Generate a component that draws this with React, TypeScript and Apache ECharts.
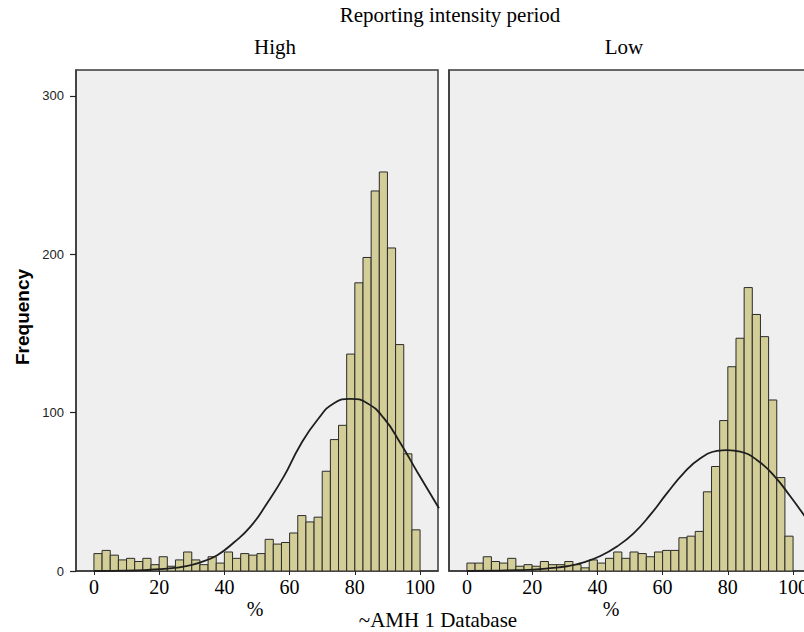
import React, { useEffect, useRef } from "react";
import * as echarts from "echarts";

// Histogram bins (% values), 2.5 wide
const BIN_STARTS = [
  0, 2.5, 5, 7.5, 10, 12.5, 15, 17.5, 20, 22.5,
  25, 27.5, 30, 32.5, 35, 37.5, 40, 42.5, 45, 47.5,
  50, 52.5, 55, 57.5, 60, 62.5, 65, 67.5, 70, 72.5,
  75, 77.5, 80, 82.5, 85, 87.5, 90, 92.5, 95, 97.5,
];
const BIN_WIDTH = 2.5;

// Frequencies, panel "High"
const HIGH_COUNTS = [
  11, 13, 10, 7, 8, 6, 8, 4, 9, 3,
  7, 12, 7, 4, 9, 5, 12, 8, 11, 10,
  11, 20, 17, 18, 24, 35, 31, 34, 63, 83,
  92, 137, 182, 198, 240, 252, 204, 143, 74, 26,
];

// Frequencies, panel "Low"
const LOW_COUNTS = [
  5, 5, 9, 6, 5, 8, 3, 4, 3, 6,
  4, 4, 6, 4, 2, 7, 5, 8, 12, 8,
  12, 11, 9, 12, 13, 13, 21, 22, 25, 50,
  66, 95, 129, 147, 179, 162, 148, 108, 59, 22,
];

// Normal curves
const HIGH_CURVE_X = [0, 10, 17.3, 22.4, 27.5, 32.7, 37.8, 42.9, 48, 53.1, 58.2, 63.3, 68.5, 73.6, 78.7, 83.8, 88.9, 94, 99.1, 105.8];
const HIGH_CURVE_Y = [0, 0.2, 0.8, 1.5, 2.8, 5.5, 10, 18, 28, 42.8, 59.6, 79.6, 95.4, 106, 108.7, 106, 96.5, 80.7, 62.7, 39.6];
const LOW_CURVE_X = [0, 10.2, 15.3, 20.4, 25.5, 30.7, 35.8, 40.9, 46, 51.1, 56.2, 61.3, 66.4, 71.6, 76.7, 79.8, 83.8, 89, 94, 99.2, 105.5];
const LOW_CURVE_Y = [0, 0.3, 0.5, 0.9, 1.8, 3, 5.5, 9.5, 15.5, 23.8, 35.4, 49, 61.7, 71.2, 75.8, 76.4, 75.4, 70, 60.6, 47, 29];

const X_TICKS = [0, 20, 40, 60, 80, 100];
const Y_TICKS = [0, 100, 200, 300];
const PANEL_TITLES = ["High", "Low"];
const X_AXIS_TITLE = "%";
const Y_AXIS_TITLE = "Frequency";
const TOP_TITLE = "Reporting intensity period";
const BOTTOM_TITLE = "~AMH 1 Database";

const X_MIN = -5.5;
const X_MAX = 105.5;
const Y_MAX = 316.4;

const BAR_FILL = "#D3CE98";
const BAR_STROKE = "#2b2b2b";
const FRAME = "#3a3a3a";
const SERIF = "'Liberation Serif', 'Times New Roman', serif";
const SANS = "'Liberation Sans', Arial, sans-serif";

function histData(counts: number[]) {
  return BIN_STARTS.map((s, i) => [s, s + BIN_WIDTH, counts[i]]);
}

function curveData(xs: number[], ys: number[]) {
  return xs.map((x, i) => [x, ys[i]]);
}

const renderBar = (params: any, api: any) => {
  const p0 = api.coord([api.value(0), 0]);
  const p1 = api.coord([api.value(1), api.value(2)]);
  return {
    type: "rect",
    shape: { x: p0[0], y: p1[1], width: p1[0] - p0[0], height: p0[1] - p1[1] },
    style: { fill: BAR_FILL, stroke: BAR_STROKE, lineWidth: 1 },
  };
};

export default function App() {
  const ref = useRef<HTMLDivElement>(null);

  useEffect(() => {
    if (!ref.current) return;
    const chart = echarts.init(ref.current, undefined, { renderer: "svg" });

    const grids = [
      { left: 76, top: 70, width: 362, height: 501 },
      { left: 449, top: 70, width: 362, height: 501 },
    ].map((g) => ({
      ...g,
      show: true,
      backgroundColor: "#EFEFEF",
      borderColor: FRAME,
      borderWidth: 1.5,
      containLabel: false,
    }));

    const xAxes: any[] = [0, 1].map((gi) => ({
      type: "value",
      gridIndex: gi,
      min: X_MIN,
      max: X_MAX,
      position: "bottom",
      splitLine: { show: false },
      axisLine: { show: true, lineStyle: { color: FRAME, width: 1.5 } },
      axisTick: {
        show: true,
        length: 4,
        inside: false,
        customValues: X_TICKS,
        lineStyle: { color: "#222", width: 1 },
      },
      axisLabel: {
        customValues: X_TICKS,
        margin: 6,
        color: "#000",
        fontSize: 20,
        fontFamily: SERIF,
      },
    }));
    // hidden helper axis whose zero sits on the left frame, so the
    // frequency axis (and its ticks) stays on the frame
    xAxes.push({
      type: "value",
      gridIndex: 0,
      min: 0,
      max: 1,
      show: false,
    });

    const yAxes = [0, 1].map((gi) => ({
      type: "value",
      gridIndex: gi,
      min: 0,
      max: Y_MAX,
      position: "left",
      splitLine: { show: false },
      axisLine: {
        show: true,
        onZero: gi === 0,
        onZeroAxisIndex: 2,
        lineStyle: { color: FRAME, width: 1.5 },
      },
      axisTick: {
        show: gi === 0,
        length: 6,
        inside: false,
        customValues: Y_TICKS,
        lineStyle: { color: "#222", width: 1.2 },
      },
      axisLabel: {
        show: gi === 0,
        customValues: Y_TICKS,
        margin: 12,
        color: "#222",
        fontSize: 13,
        fontFamily: SANS,
      },
    }));

    const textStyle = (size: number) => ({
      fontSize: size,
      fontFamily: SERIF,
      fill: "#000",
      align: "center",
      verticalAlign: "middle",
    });

    const curveSeries = (xi: number, xs: number[], ys: number[]) => ({
      type: "line",
      xAxisIndex: xi,
      yAxisIndex: xi,
      data: curveData(xs, ys),
      smooth: 0.5,
      symbol: "none",
      clip: true,
      lineStyle: { color: "#1e1e1e", width: 1.8 },
      z: 5,
    });

    chart.setOption({
      animation: false,
      grid: grids,
      xAxis: xAxes,
      yAxis: yAxes,
      series: [
        {
          type: "custom",
          xAxisIndex: 0,
          yAxisIndex: 0,
          renderItem: renderBar,
          encode: { x: [0, 1], y: 2 },
          data: histData(HIGH_COUNTS),
          clip: true,
        },
        {
          type: "custom",
          xAxisIndex: 1,
          yAxisIndex: 1,
          renderItem: renderBar,
          encode: { x: [0, 1], y: 2 },
          data: histData(LOW_COUNTS),
          clip: true,
        },
        curveSeries(0, HIGH_CURVE_X, HIGH_CURVE_Y),
        curveSeries(1, LOW_CURVE_X, LOW_CURVE_Y),
      ],
      graphic: [
        { type: "text", x: 450, y: 15, style: { text: TOP_TITLE, ...textStyle(21) } },
        { type: "text", x: 275, y: 47, style: { text: PANEL_TITLES[0], ...textStyle(21) } },
        { type: "text", x: 624, y: 47, style: { text: PANEL_TITLES[1], ...textStyle(21) } },
        { type: "text", x: 255, y: 609, style: { text: X_AXIS_TITLE, ...textStyle(20) } },
        { type: "text", x: 611, y: 609, style: { text: X_AXIS_TITLE, ...textStyle(20) } },
        { type: "text", x: 438, y: 620, style: { text: BOTTOM_TITLE, ...textStyle(21) } },
        {
          type: "text",
          x: 22,
          y: 317,
          rotation: Math.PI / 2,
          style: {
            text: Y_AXIS_TITLE,
            fontSize: 19,
            fontWeight: "bold",
            fontFamily: SANS,
            fill: "#000",
            align: "center",
            verticalAlign: "middle",
          },
        },
      ],
    });

    return () => chart.dispose();
  }, []);

  return (
    <div
      style={{
        position: "fixed",
        left: 0,
        top: 0,
        width: 804,
        height: 632,
        overflow: "hidden",
        background: "#fff",
      }}
    >
      <div ref={ref} style={{ width: 820, height: 632 }} />
    </div>
  );
}
